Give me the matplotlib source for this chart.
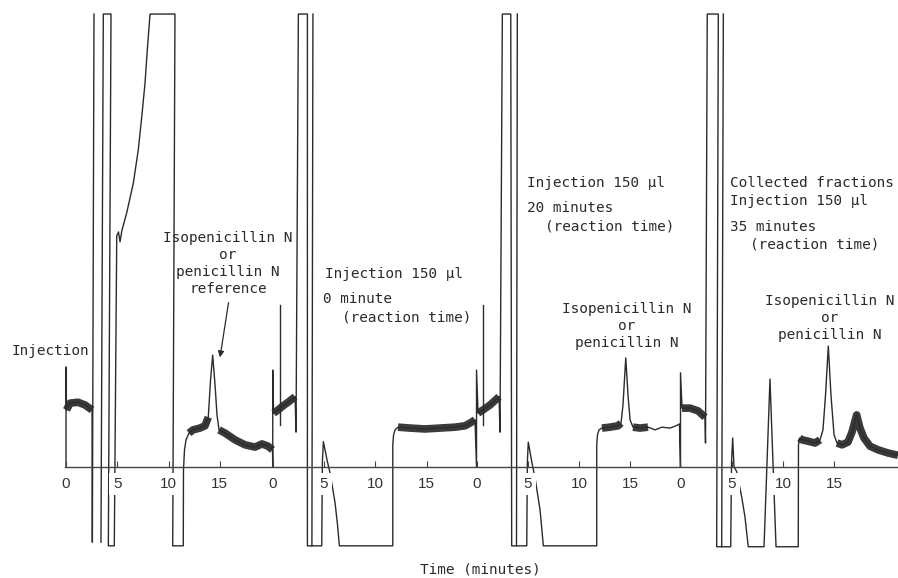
import numpy as np
import matplotlib
matplotlib.use("Agg")
import matplotlib.pyplot as plt

# start of each of the four recorder runs on the common paper axis (minutes)
run_offsets = [0.0, 20.17, 40.05, 59.95]
tick_minutes = [0, 5, 10, 15]
tick_labels = ["0", "5", "10", "15"]

# recorder traces: (minutes after injection, signal in % of full scale); nan = pen gap
run1_trace = [(0, 0), (0, 22.1), (0.05, 12.6), (0.39, 14.1), (1.17, 14.3), (1.85, 13.7),
              (2.54, 12.6), (2.57, -16.6), (2.73, 100), (np.nan, np.nan),
              (3.41, -16.6), (3.64, 100), (4.39, 100), (4.13, -17.4), (4.71, -17.4),
              (4.95, 51.0), (5.12, 51.9), (5.27, 49.7), (5.46, 52.3), (5.92, 56.1),
              (6.57, 62.7), (7.05, 70.0), (7.39, 77.3), (7.71, 84.8), (7.93, 92.1),
              (8.20, 100), (10.63, 100), (10.41, -17.4), (11.44, -17.4), (11.46, -0.7),
              (11.56, 3.8), (11.71, 6.0), (12.0, 7.5), (12.39, 8.2), (13.07, 8.6),
              (13.56, 9.1), (13.88, 11.0), (14.10, 19.2), (14.31, 24.7), (14.54, 18.1),
              (14.73, 11.5), (14.93, 8.2), (15.51, 7.5), (16.49, 6.0), (17.46, 4.9),
              (18.44, 4.4), (19.12, 5.1), (19.71, 4.6), (20.15, 3.8)]
run2_trace = [(0, 0), (0, 21.4), (0.08, 11.9), (0.52, 12.6), (1.0, 13.5), (1.49, 14.3),
              (2.18, 15.5), (2.27, 7.7), (2.50, 100), (3.38, 100), (3.38, -17.4),
              (4.78, -17.4), (4.84, 1.1), (4.94, 5.6), (5.10, 3.8), (5.30, 1.5),
              (5.59, -1.3), (6.08, -7.9), (6.32, -12.8), (6.50, -17.4), (11.71, -17.4),
              (11.71, 4.9), (11.79, 7.1), (11.93, 8.2), (12.22, 8.8), (13.39, 8.6),
              (14.85, 8.4), (16.31, 8.6), (17.78, 8.8), (18.76, 9.1), (19.24, 9.7),
              (19.73, 10.4)]
run3_trace = [(0, 0), (0, 21.4), (0.15, 11.9), (0.63, 12.6), (1.32, 13.7), (2.20, 15.5),
              (2.29, 7.7), (2.52, 100), (3.34, 100), (3.43, -17.4), (4.90, -17.4),
              (4.96, 1.1), (5.05, 5.5), (5.22, 3.3), (5.41, 0.9), (5.71, -2.4),
              (6.20, -9.5), (6.52, -17.4), (11.73, -17.4), (11.73, 4.9), (11.80, 7.1),
              (11.95, 8.2), (12.24, 8.6), (13.02, 8.8), (13.80, 9.1), (14.10, 9.7),
              (14.29, 13.7), (14.56, 24.1), (14.78, 15.9), (14.98, 10.4), (15.27, 8.8),
              (15.95, 8.6), (16.73, 8.8), (17.41, 8.2), (18.10, 8.8), (18.88, 8.6),
              (19.46, 9.1), (19.80, 9.5)]
run4_trace = [(0, 0), (0, 20.8), (0.15, 13.0), (0.93, 13.0), (1.71, 12.4), (2.39, 11.0),
              (2.44, 5.3), (2.61, 100), (3.69, 100), (3.53, -17.6), (4.90, -17.6),
              (4.98, 1.1), (5.09, 6.4), (5.22, 0.1), (5.48, -1.0), (5.97, -6.6),
              (6.29, -11.0), (6.61, -17.6), (8.15, -17.6), (8.73, 19.4), (9.32, -17.6),
              (11.49, -17.6), (11.51, 4.9), (11.61, 6.4), (11.85, 6.0), (12.44, 5.7),
              (13.12, 5.3), (13.61, 6.0), (13.90, 8.2), (14.15, 15.9), (14.42, 26.7),
              (14.68, 15.9), (14.98, 7.1), (15.27, 5.3), (15.76, 4.9), (16.34, 5.5),
              (16.73, 7.7), (17.19, 11.5), (17.51, 8.6), (17.90, 6.4), (18.49, 4.6),
              (19.27, 3.8), (20.24, 3.1), (21.22, 2.6)]
run_traces = [run1_trace, run2_trace, run3_trace, run4_trace]

# stretches (minutes) where the baseline is a noisy band
run_noise = [[(0.05, 2.54), (11.9, 13.88), (14.93, 20.15)],
             [(0.08, 2.18), (12.22, 19.73)],
             [(0.15, 2.20), (12.24, 14.10), (15.27, 16.8)],
             [(0.15, 2.39), (11.61, 13.61), (15.27, 21.22)]]

# separate pen strokes: (run index, points)
extra_strokes = [(1, [(3.82, -17.4), (3.92, 100)]),
                 (2, [(3.90, -17.4), (3.98, 100)]),
                 (3, [(4.02, -17.6), (4.18, 100)]),
                 (1, [(0.71, 35.8), (0.71, 9.3)]),
                 (2, [(0.66, 35.8), (0.66, 9.3)])]

ink = "#2b2b2b"
mono = "DejaVu Sans Mono"
fs = 10.4
ls = 1.27

fig = plt.figure(figsize=(8.98, 5.78), dpi=100)
ax = fig.add_axes([0, 0, 1, 1])
ax.set_xlim(-6.44, 81.17)
ax.set_ylim(-24.5, 103.1)
ax.patch.set_visible(False)
ax.set_axisbelow(False)

gx, gy = [], []
for off, trace, noise in zip(run_offsets, run_traces, run_noise):
    t = np.array([p[0] for p in trace], dtype=float)
    s = np.array([p[1] for p in trace], dtype=float)
    gx.extend(t + off)
    gy.extend(s)
    for a, b in noise:
        m = (t >= a) & (t <= b)
        ax.plot(t[m] + off, s[m], color="#3a3a3a", lw=5.5, solid_capstyle="butt",
                solid_joinstyle="round", zorder=1.8)
ax.plot(gx, gy, color=ink, lw=1.0, zorder=2)

for idx, pts in extra_strokes:
    ax.plot([p[0] + run_offsets[idx] for p in pts], [p[1] for p in pts],
            color=ink, lw=1.0, zorder=2)

# axis
for side in ["top", "left", "right"]:
    ax.spines[side].set_visible(False)
ax.spines["bottom"].set_position(("data", 0))
ax.spines["bottom"].set_bounds(-0.05, 81.17)
ax.spines["bottom"].set_color("#444444")
ax.spines["bottom"].set_linewidth(1.0)
ax.set_yticks([])
ticks = [off + m for off in run_offsets for m in tick_minutes]
labels = [lab for off in run_offsets for lab in tick_labels]
ax.set_xticks(ticks)
ax.set_xticklabels(labels)
ax.tick_params(axis="x", direction="in", length=4, width=0.8, color="#444444",
               pad=7, labelsize=11, labelcolor="#333333")
for tk in ax.xaxis.get_major_ticks():
    tk.label1.set_fontfamily("Liberation Sans")
    tk.label1.set_bbox(dict(facecolor="white", edgecolor="none", pad=3.0))

# annotations
ax.text(-5.27, 25.6, "Injection", family=mono, fontsize=fs, ha="left", va="center", color=ink)
ax.text(15.8, 44.9, "Isopenicillin N\nor\npenicillin N\nreference", family=mono, fontsize=fs,
        ha="center", va="center", color=ink, linespacing=ls)
ax.annotate("", xy=(14.98, 23.6), xytext=(15.9, 36.9),
            arrowprops=dict(arrowstyle="-|>", color=ink, lw=0.9, mutation_scale=9))

ax.text(25.27, 42.6, "Injection 150 μl", family=mono, fontsize=fs, ha="left", va="center", color=ink)
ax.text(25.07, 37.1, "0 minute", family=mono, fontsize=fs, ha="left", va="center", color=ink)
ax.text(26.93, 33.1, "(reaction time)", family=mono, fontsize=fs, ha="left", va="center", color=ink)

ax.text(44.98, 62.7, "Injection 150 μl", family=mono, fontsize=fs, ha="left", va="center", color=ink)
ax.text(44.98, 57.2, "20 minutes", family=mono, fontsize=fs, ha="left", va="center", color=ink)
ax.text(46.73, 53.0, "(reaction time)", family=mono, fontsize=fs, ha="left", va="center", color=ink)

ax.text(64.78, 62.7, "Collected fractions", family=mono, fontsize=fs, ha="left", va="center", color=ink)
ax.text(64.78, 58.7, "Injection 150 μl", family=mono, fontsize=fs, ha="left", va="center", color=ink)
ax.text(64.78, 53.0, "35 minutes", family=mono, fontsize=fs, ha="left", va="center", color=ink)
ax.text(66.73, 49.2, "(reaction time)", family=mono, fontsize=fs, ha="left", va="center", color=ink)

ax.text(54.73, 31.1, "Isopenicillin N\nor\npenicillin N", family=mono, fontsize=fs,
        ha="center", va="center", color=ink, linespacing=ls)
ax.text(74.54, 32.8, "Isopenicillin N\nor\npenicillin N", family=mono, fontsize=fs,
        ha="center", va="center", color=ink, linespacing=ls)

ax.text(40.39, -22.7, "Time (minutes)", family=mono, fontsize=fs, ha="center", va="center", color=ink)

fig.savefig("out.png", dpi=100, facecolor="white")
